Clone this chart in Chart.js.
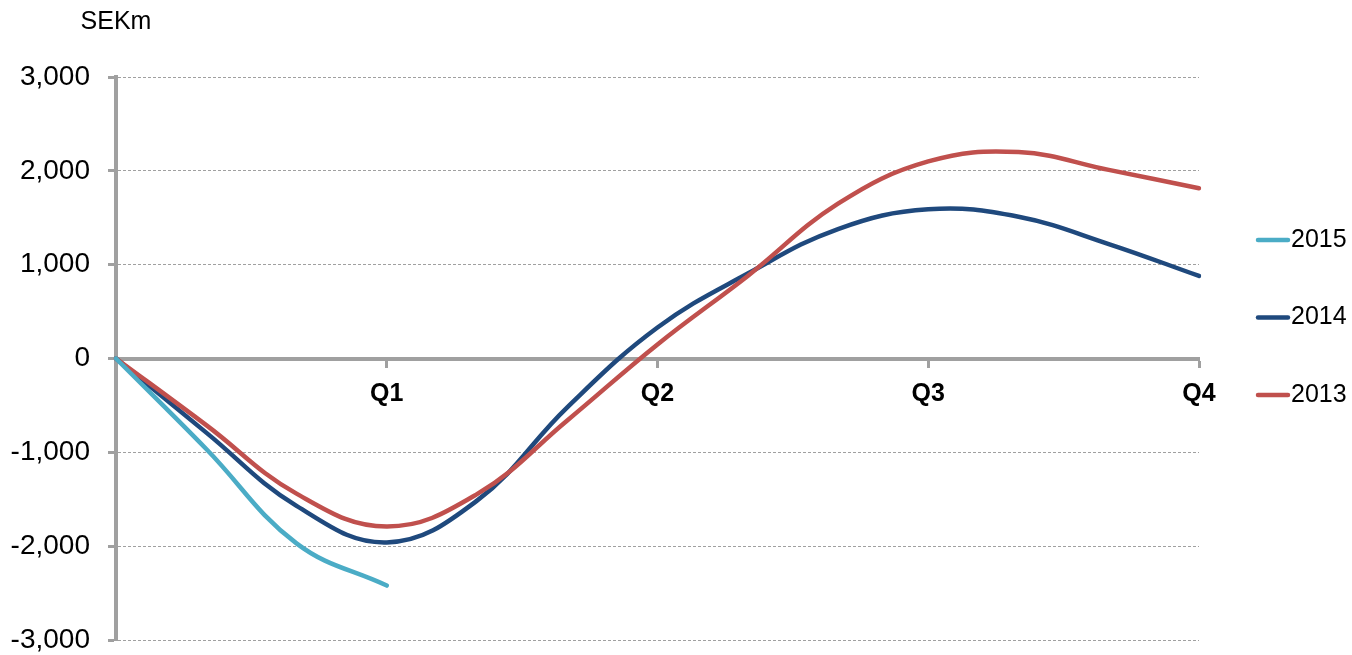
<!DOCTYPE html>
<html>
<head>
<meta charset="utf-8">
<script src="https://cdn.jsdelivr.net/npm/chart.js@4.4.0/dist/chart.umd.min.js"></script>
<style>
  body { margin: 0; background: #fff; }
  #wrap { width: 1352px; height: 655px; }
</style>
</head>
<body>
<div id="wrap"><canvas id="chart" width="1352" height="655"></canvas></div>
<script>
// Months from the start of the year (0 = start), quarters labelled at Mar/Jun/Sep/Dec
const months = ["", "Jan", "Feb", "Mar", "Apr", "May", "Jun", "Jul", "Aug", "Sep", "Oct", "Nov", "Dec"];
const quarterLabels = { Mar: "Q1", Jun: "Q2", Sep: "Q3", Dec: "Q4" };

// Cumulative values, SEKm
const values2015 = [0, -965, -1970, -2420];
const values2014 = [0, -790, -1570, -1960, -1515, -520, 330, 905, 1380, 1590, 1510, 1220, 880];
const values2013 = [0, -710, -1440, -1790, -1445, -660, 150, 880, 1650, 2100, 2200, 2010, 1815];

const yTicks = [-3000, -2000, -1000, 0, 1000, 2000, 3000];

const AXIS_GRAY = "#a0a0a0";
const FONT = "'Liberation Sans', Arial, sans-serif";

// Legend drawn on the canvas, to the right of the plot
const sideLegend = {
  id: "sideLegend",
  afterDraw(chart) {
    const { ctx, chartArea } = chart;
    const order = ["2015", "2014", "2013"];
    ctx.save();
    ctx.font = "25px " + FONT;
    ctx.textBaseline = "middle";
    order.forEach((label, i) => {
      const ds = chart.data.datasets.find((d) => d.label === label);
      const y = 240 + i * 77.5;
      const x = chartArea.right + 59;
      ctx.strokeStyle = ds.borderColor;
      ctx.lineWidth = 4.5;
      ctx.lineCap = "round";
      ctx.beginPath();
      ctx.moveTo(x, y);
      ctx.lineTo(x + 30, y);
      ctx.stroke();
      ctx.fillStyle = "#000";
      ctx.fillText(label, x + 33, y);
    });
    // unit label above the value axis
    ctx.font = "25px " + FONT;
    ctx.textAlign = "center";
    ctx.fillText("SEKm", chartArea.left, 22);
    ctx.restore();
  },
};

const ctx = document.getElementById("chart").getContext("2d");
new Chart(ctx, {
  type: "line",
  data: {
    labels: months,
    datasets: [
      {
        label: "2015",
        data: values2015,
        borderColor: "#4BACC6",
        borderWidth: 4.5,
        pointRadius: 0,
        tension: 0.4,
        borderCapStyle: "round",
      },
      {
        label: "2013",
        data: values2013,
        borderColor: "#C0504D",
        borderWidth: 4.5,
        pointRadius: 0,
        tension: 0.4,
        borderCapStyle: "round",
      },
      {
        label: "2014",
        data: values2014,
        borderColor: "#1F497D",
        borderWidth: 4.5,
        pointRadius: 0,
        tension: 0.4,
        borderCapStyle: "round",
      },
    ],
  },
  options: {
    responsive: false,
    animation: false,
    events: [],
    layout: { padding: { top: 77, bottom: 15, left: 0, right: 153 } },
    plugins: {
      legend: { display: false },
      tooltip: { enabled: false },
      title: { display: false },
    },
    scales: {
      x: {
        type: "category",
        position: { y: 0 },
        offset: false,
        afterFit: (scale) => {
          scale.height = 0;
        },
        grid: {
          drawOnChartArea: false,
          drawTicks: true,
          tickLength: 7,
          tickWidth: 3,
          tickColor: (c) =>
            quarterLabels[months[c.index]] ? AXIS_GRAY : "rgba(0,0,0,0)",
        },
        border: { display: true, color: AXIS_GRAY, width: 4 },
        ticks: {
          autoSkip: false,
          maxRotation: 0,
          padding: 14,
          color: "#000",
          font: { family: FONT, size: 25, weight: "bold" },
          callback: (v, i) => quarterLabels[months[i]] || "",
        },
      },
      y: {
        min: -3000,
        max: 3000,
        afterBuildTicks: (scale) => {
          scale.ticks = yTicks.map((v) => ({ value: v }));
        },
        afterFit: (scale) => {
          scale.width = 116;
          scale.paddingTop = 15;
          scale.paddingBottom = 15;
        },
        grid: {
          color: (c) => (c.tick && c.tick.value === 0 ? "rgba(0,0,0,0)" : AXIS_GRAY),
          lineWidth: 1,
          tickLength: 8,
          tickWidth: 3,
          tickColor: AXIS_GRAY,
        },
        border: { display: true, color: AXIS_GRAY, width: 4, dash: [3, 2] },
        ticks: {
          padding: 18,
          color: "#000",
          font: { family: FONT, size: 28 },
          callback: (v) => v.toLocaleString("en-US"),
        },
      },
    },
  },
  plugins: [sideLegend],
});
</script>
</body>
</html>
